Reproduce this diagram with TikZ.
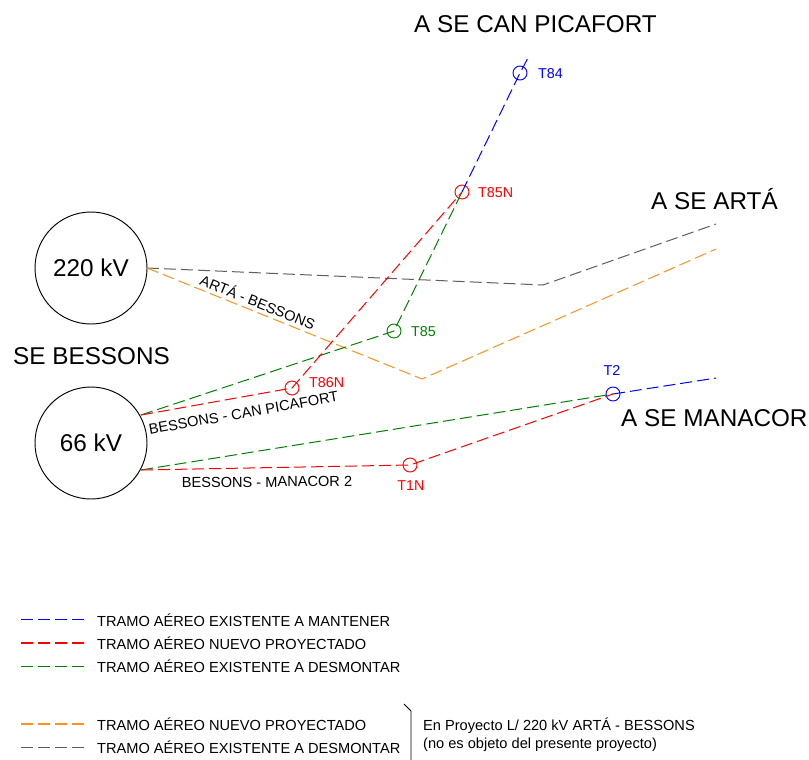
\documentclass[tikz,border=0pt]{standalone}
\usepackage{fontspec}
\setmainfont{Liberation Sans}
\definecolor{cblue}{RGB}{0,0,255}
\definecolor{cred}{RGB}{255,0,0}
\definecolor{cgreen}{RGB}{0,128,0}
\definecolor{corange}{RGB}{255,145,30}
\definecolor{cgrey}{RGB}{95,95,95}
\tikzset{
  tramo/.style={line width=1pt,dash pattern=on 12pt off 5pt},
  legline/.style={line width=1.35pt,dash pattern=on 12pt off 5pt},
  bigcirc/.style={circle,draw=black,line width=0.95pt,minimum size=112pt,inner sep=0pt,font=\fontsize{24.3}{26}\selectfont},
  tower/.style={circle,draw=#1,line width=0.95pt,minimum size=14pt,inner sep=0pt},
  towerlabel/.style={text=#1,font=\fontsize{14.3}{16}\selectfont,inner sep=0pt},
  bigtext/.style={font=\fontsize{24.3}{26}\selectfont,inner sep=0pt,anchor=west},
  linelabel/.style={font=\fontsize{14.6}{16}\selectfont,inner sep=0pt},
  legendtext/.style={font=\fontsize{14.6}{16}\selectfont,inner sep=0pt,anchor=west},
  notetext/.style={font=\fontsize{14.6}{16}\selectfont,inner sep=0pt,anchor=west}
}
\begin{document}
\begin{tikzpicture}[x=1pt,y=-1pt]
\useasboundingbox[fill=white] (0,0) rectangle (809,760);
% substations
\node[bigcirc] (c220) at (91,268) {220 kV};
\node[bigcirc] (c66) at (91,443) {66 kV};
\coordinate (p220) at (147,268);
\coordinate (p66a) at (141,415);
\coordinate (p66b) at (141,470);
% towers
\node[tower=cblue] (T84) at (520,73) {};
\node[tower=cred] (T85N) at (462,192) {};
\node[tower=cgreen] (T85) at (394,331) {};
\node[tower=cred] (T86N) at (292,388) {};
\node[tower=cred] (T1N) at (410,465) {};
\node[tower=cblue] (T2) at (613,394) {};
% free ends
\coordinate (endpica) at (529,56);
\coordinate (endgrey) at (716,224);
\coordinate (endorange) at (716,249);
\coordinate (endmana) at (716,378);
\coordinate (kgrey) at (543,285);
\coordinate (korange) at (422,379);
% lines
\draw[tramo,cgrey] (p220) -- (kgrey) -- (endgrey);
\draw[tramo,corange] (p220) -- (korange) -- (endorange);
\draw[tramo,cgreen] (p66a) -- (T85.center) -- (T85N.center);
\draw[tramo,cred] (p66a) -- (T86N.center) -- (T85N.center);
\draw[tramo,cblue] (T85N.center) -- (T84.center) -- (endpica);
\draw[tramo,cgreen] (p66b) -- (T2.center);
\draw[tramo,cred] (p66b) -- (T1N.center) -- (T2.center);
\draw[tramo,cblue] (T2.center) -- (endmana);
% tower labels
\node[towerlabel=cblue,anchor=west] (lT84) at (538,73.7) {T84};
\node[towerlabel=cred,anchor=west] (lT85N) at (478,192.7) {T85N};
\node[towerlabel=cgreen,anchor=west] (lT85) at (411,331.7) {T85};
\node[towerlabel=cred,anchor=west] (lT86N) at (309,382.7) {T86N};
\node[towerlabel=cred] (lT1N) at (411,485.7) {T1N};
\node[towerlabel=cblue] (lT2) at (612,370.7) {T2};
% large labels
\node[bigtext] (tpica) at (414,24) {A SE CAN PICAFORT};
\node[bigtext] (tarta) at (651,199) {A SE ARTÁ};
\node[bigtext] (tmana) at (621,418) {A SE MANACOR};
\node[bigtext] (tbess) at (13,356) {SE BESSONS};
% line labels
\node[linelabel,rotate=-22] (lab1) at (258,301.5) {ARTÁ - BESSONS};
\node[linelabel,rotate=10] (lab2) at (243.5,413) {BESSONS - CAN PICAFORT};
\node[linelabel,rotate=0.5] (lab3) at (267,482) {BESSONS - MANACOR 2};
% legend
\coordinate (lsa) at (21,619.5); \coordinate (lea) at (84,619.5);
\coordinate (lsb) at (21,643); \coordinate (leb) at (84,643);
\coordinate (lsc) at (21,666.5); \coordinate (lec) at (84,666.5);
\coordinate (lsd) at (21,724); \coordinate (led) at (84,724);
\coordinate (lse) at (21,747.5); \coordinate (lee) at (84,747.5);
\draw[legline,cblue] (lsa) -- (lea);
\draw[legline,cred] (lsb) -- (leb);
\draw[legline,cgreen] (lsc) -- (lec);
\draw[legline,corange] (lsd) -- (led);
\draw[legline,cgrey] (lse) -- (lee);
\node[legendtext] (lega) at (97,620) {TRAMO AÉREO EXISTENTE A MANTENER};
\node[legendtext] (legb) at (97,643) {TRAMO AÉREO NUEVO PROYECTADO};
\node[legendtext] (legc) at (97,666) {TRAMO AÉREO EXISTENTE A DESMONTAR};
\node[legendtext] (legd) at (97,724) {TRAMO AÉREO NUEVO PROYECTADO};
\node[legendtext] (lege) at (97,747) {TRAMO AÉREO EXISTENTE A DESMONTAR};
% bracket and note
\coordinate (br1) at (404,704);
\coordinate (br2) at (411,711);
\coordinate (br3) at (411,760);
\draw[black,line width=0.95pt] (br1) -- (br2) -- (br3);
\node[notetext] (note1) at (423,726) {En Proyecto L/ 220 kV ARTÁ - BESSONS};
\node[notetext] (note2) at (423,745) {(no es objeto del presente proyecto)};
\end{tikzpicture}
\end{document}
